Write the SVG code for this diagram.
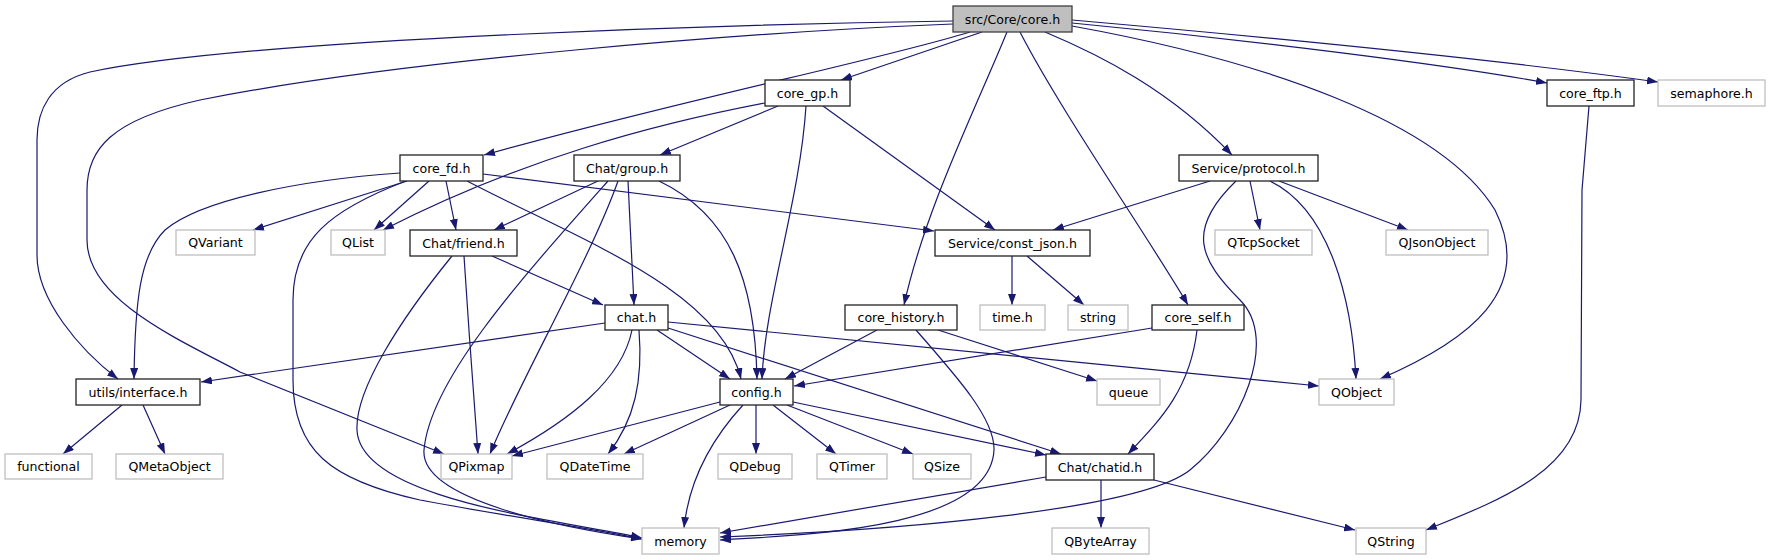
<svg xmlns="http://www.w3.org/2000/svg" width="1770" height="560" viewBox="0 0 1770 560">
<defs>
<marker id="arr" markerUnits="userSpaceOnUse" markerWidth="11" markerHeight="8" viewBox="0 0 11 8" refX="11" refY="4" orient="auto">
<path d="M0,0 L11,4 L0,8 z" fill="#191970"/>
</marker>
</defs>
<style>
.n rect{fill:#fff;stroke:#222;stroke-width:1.3}
.x rect{fill:#fff;stroke:#bfbfbf;stroke-width:1.3}
.r rect{fill:#bfbfbf;stroke:#404040;stroke-width:1.3}
text{font-family:"DejaVu Sans","Liberation Sans",sans-serif;font-size:12.6px;fill:#000;text-anchor:middle}
#edges path{fill:none;stroke:#191970;stroke-width:1.2;marker-end:url(#arr)}
</style>
<rect width="1770" height="560" fill="#fff"/>
<g id="edges">
<path d="M953,21 C750,24 250,38 90,72 C50,82 37,110 37,140 L37,255 C37,300 80,350 118,379"/>
<path d="M953,24 C750,32 400,60 200,100 C110,120 87,150 87,190 L87,240 C87,300 180,340 240,372 L444,454"/>
<path d="M970,32 C880,60 680,100 484,155"/>
<path d="M982,32 L841,80"/>
<path d="M1007,32 C975,110 925,210 904,305"/>
<path d="M1020,32 C1060,110 1150,240 1188,305"/>
<path d="M1045,32 C1100,55 1170,90 1232,155"/>
<path d="M1072,26 C1260,60 1440,120 1495,210 C1535,290 1470,340 1380,379"/>
<path d="M1072,23 C1250,40 1450,65 1547,83"/>
<path d="M1072,20 C1300,40 1500,60 1658,82"/>
<path d="M765,103 C650,125 520,160 383,230"/>
<path d="M778,106 L660,155"/>
<path d="M806,106 C800,200 765,300 762,379"/>
<path d="M823,106 L995,230"/>
<path d="M400,173 C300,180 200,200 165,230 C140,255 135,300 134,379"/>
<path d="M407,181 L253,230"/>
<path d="M429,181 L374,230"/>
<path d="M446,181 L456,230"/>
<path d="M406,181 C330,210 293,240 293,300 L293,380 C293,450 330,480 420,500 C500,515 600,530 642,539"/>
<path d="M467,181 C580,240 720,290 741,379"/>
<path d="M483,174 L934,231"/>
<path d="M598,181 L494,230"/>
<path d="M628,181 L634,305"/>
<path d="M659,181 C730,215 755,280 757,379"/>
<path d="M618,181 C590,260 520,380 490,454"/>
<path d="M608,181 C520,280 430,380 424,450 C420,500 560,527 642,539"/>
<path d="M492,256 L603,305"/>
<path d="M464,256 C468,320 474,400 478,454"/>
<path d="M452,256 C400,320 355,390 357,430 C360,500 560,520 642,538"/>
<path d="M605,323 L201,382"/>
<path d="M632,330 C622,380 570,420 507,454"/>
<path d="M639,330 C643,380 635,420 608,454"/>
<path d="M657,330 L730,379"/>
<path d="M668,328 L1061,454"/>
<path d="M668,322 L1319,386"/>
<path d="M720,402 L512,456"/>
<path d="M730,405 L624,454"/>
<path d="M743,405 C720,430 690,470 684,528"/>
<path d="M756,405 L756,454"/>
<path d="M773,405 L836,454"/>
<path d="M787,405 L913,454"/>
<path d="M793,402 L1046,455"/>
<path d="M877,330 L785,379"/>
<path d="M916,330 C960,380 995,420 994,450 C990,530 800,535 720,540"/>
<path d="M938,330 L1097,381"/>
<path d="M1152,328 L794,386"/>
<path d="M1197,330 C1190,390 1160,420 1128,454"/>
<path d="M1046,477 L720,533"/>
<path d="M1101,480 L1101,528"/>
<path d="M1154,480 L1355,530"/>
<path d="M1210,181 L1053,230"/>
<path d="M1250,181 L1260,230"/>
<path d="M1236,181 C1185,230 1200,260 1240,300 C1280,340 1240,430 1190,470 C1140,510 900,530 720,537"/>
<path d="M1270,181 C1330,210 1352,300 1356,379"/>
<path d="M1279,181 L1408,230"/>
<path d="M1012,256 L1012,305"/>
<path d="M1027,256 L1084,305"/>
<path d="M122,405 L63,454"/>
<path d="M143,405 L165,454"/>
<path d="M1589,106 L1582,190 L1581,400 C1580,470 1500,500 1426,530"/>
</g>
<g id="core_h" class="r"><rect x="953" y="6" width="119" height="26"/><text x="1012.5" y="23.5">src/Core/core.h</text></g>
<g id="core_gp" class="n"><rect x="765" y="80" width="85" height="26"/><text x="807.5" y="97.5">core_gp.h</text></g>
<g id="core_ftp" class="n"><rect x="1547" y="80" width="87" height="26"/><text x="1590.5" y="97.5">core_ftp.h</text></g>
<g id="semaphore" class="x"><rect x="1658" y="80" width="107" height="26"/><text x="1711.5" y="97.5">semaphore.h</text></g>
<g id="core_fd" class="n"><rect x="400" y="155" width="83" height="26"/><text x="441.5" y="172.5">core_fd.h</text></g>
<g id="chat_group" class="n"><rect x="574" y="155" width="106" height="26"/><text x="627" y="172.5">Chat/group.h</text></g>
<g id="protocol" class="n"><rect x="1179" y="155" width="139" height="26"/><text x="1248.5" y="172.5">Service/protocol.h</text></g>
<g id="QVariant" class="x"><rect x="176" y="230" width="79" height="25"/><text x="215.5" y="247">QVariant</text></g>
<g id="QList" class="x"><rect x="331" y="230" width="54" height="25"/><text x="358" y="247">QList</text></g>
<g id="chat_friend" class="n"><rect x="410" y="230" width="107" height="26"/><text x="463.5" y="247.5">Chat/friend.h</text></g>
<g id="const_json" class="n"><rect x="935" y="230" width="155" height="26"/><text x="1012.5" y="247.5">Service/const_json.h</text></g>
<g id="QTcpSocket" class="x"><rect x="1215" y="230" width="97" height="25"/><text x="1263.5" y="247">QTcpSocket</text></g>
<g id="QJsonObject" class="x"><rect x="1386" y="230" width="102" height="25"/><text x="1437" y="247">QJsonObject</text></g>
<g id="chat_h" class="n"><rect x="605" y="305" width="63" height="25"/><text x="636.5" y="322">chat.h</text></g>
<g id="core_history" class="n"><rect x="845" y="305" width="112" height="25"/><text x="901" y="322">core_history.h</text></g>
<g id="time_h" class="x"><rect x="980" y="305" width="65" height="25"/><text x="1012.5" y="322">time.h</text></g>
<g id="string" class="x"><rect x="1068" y="305" width="60" height="25"/><text x="1098" y="322">string</text></g>
<g id="core_self" class="n"><rect x="1152" y="305" width="92" height="25"/><text x="1198" y="322">core_self.h</text></g>
<g id="interface" class="n"><rect x="76" y="379" width="124" height="26"/><text x="138" y="396.5">utils/interface.h</text></g>
<g id="config" class="n"><rect x="720" y="379" width="73" height="26"/><text x="756.5" y="396.5">config.h</text></g>
<g id="queue" class="x"><rect x="1097" y="379" width="63" height="26"/><text x="1128.5" y="396.5">queue</text></g>
<g id="QObject" class="x"><rect x="1319" y="379" width="75" height="26"/><text x="1356.5" y="396.5">QObject</text></g>
<g id="functional" class="x"><rect x="5" y="454" width="87" height="25"/><text x="48.5" y="471">functional</text></g>
<g id="QMetaObject" class="x"><rect x="116" y="454" width="107" height="25"/><text x="169.5" y="471">QMetaObject</text></g>
<g id="QPixmap" class="x"><rect x="441" y="454" width="71" height="25"/><text x="476.5" y="471">QPixmap</text></g>
<g id="QDateTime" class="x"><rect x="547" y="454" width="96" height="25"/><text x="595" y="471">QDateTime</text></g>
<g id="QDebug" class="x"><rect x="718" y="454" width="74" height="25"/><text x="755" y="471">QDebug</text></g>
<g id="QTimer" class="x"><rect x="817" y="454" width="70" height="25"/><text x="852" y="471">QTimer</text></g>
<g id="QSize" class="x"><rect x="913" y="454" width="58" height="25"/><text x="942" y="471">QSize</text></g>
<g id="chatid" class="n"><rect x="1046" y="454" width="108" height="26"/><text x="1100" y="471.5">Chat/chatid.h</text></g>
<g id="memory" class="x"><rect x="642" y="528" width="77" height="26"/><text x="680.5" y="545.5">memory</text></g>
<g id="QByteArray" class="x"><rect x="1052" y="528" width="97" height="26"/><text x="1100.5" y="545.5">QByteArray</text></g>
<g id="QString" class="x"><rect x="1356" y="528" width="70" height="26"/><text x="1391" y="545.5">QString</text></g>
</svg>
